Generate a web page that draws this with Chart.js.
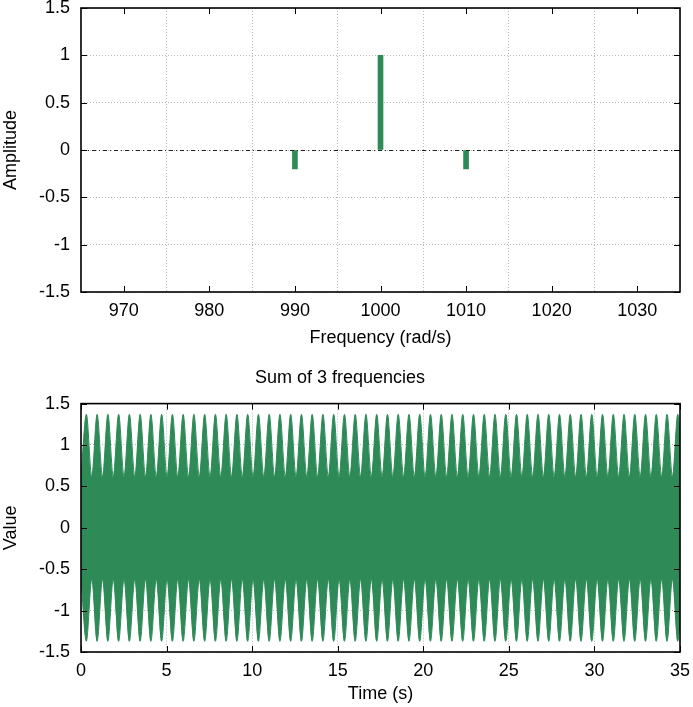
<!DOCTYPE html>
<html>
<head>
<meta charset="utf-8">
<script src="https://cdn.jsdelivr.net/npm/chart.js@4.4.1/dist/chart.umd.min.js"></script>
<style>
  body { margin: 0; background: #fff; }
  #wrap { position: relative; width: 693px; height: 707px; }
  canvas { position: absolute; left: 0; }
</style>
</head>
<body>
<div id="wrap">
  <canvas id="spectrum" width="693" height="355" style="top:0"></canvas>
  <canvas id="signal" width="693" height="352" style="top:355px"></canvas>
</div>
<script>
// spectrum (top)
const freqs = [990, 1000, 1010];
const amps = [-0.2, 1, -0.2];
const freqTicks = [970, 980, 990, 1000, 1010, 1020, 1030];

// envelope of the summed signal (bottom), read at beat troughs / peaks
const envTimes = [
  0, 0.314, 0.628, 0.942, 1.257, 1.571, 1.885, 2.199, 2.513, 2.827,
  3.142, 3.456, 3.770, 4.084, 4.398, 4.712, 5.027, 5.341, 5.655, 5.969,
  6.283, 6.597, 6.912, 7.226, 7.540, 7.854, 8.168, 8.482, 8.796, 9.111,
  9.425, 9.739, 10.053, 10.367, 10.681, 10.996, 11.310, 11.624, 11.938, 12.252,
  12.566, 12.881, 13.195, 13.509, 13.823, 14.137, 14.451, 14.765, 15.080, 15.394,
  15.708, 16.022, 16.336, 16.650, 16.965, 17.279, 17.593, 17.907, 18.221, 18.535,
  18.850, 19.164, 19.478, 19.792, 20.106, 20.420, 20.735, 21.049, 21.363, 21.677,
  21.991, 22.305, 22.619, 22.934, 23.248, 23.562, 23.876, 24.190, 24.504, 24.819,
  25.133, 25.447, 25.761, 26.075, 26.389, 26.704, 27.018, 27.332, 27.646, 27.960,
  28.274, 28.588, 28.903, 29.217, 29.531, 29.845, 30.159, 30.473, 30.788, 31.102,
  31.416, 31.730, 32.044, 32.358, 32.673, 32.987, 33.301, 33.615, 33.929, 34.243,
  34.558, 34.872, 35
];
const envValues = [
  0.62, 1.37, 0.62, 1.37, 0.62, 1.37, 0.62, 1.37, 0.62, 1.37,
  0.62, 1.37, 0.62, 1.37, 0.62, 1.37, 0.62, 1.37, 0.62, 1.37,
  0.62, 1.37, 0.62, 1.37, 0.62, 1.37, 0.62, 1.37, 0.62, 1.37,
  0.62, 1.37, 0.62, 1.37, 0.62, 1.37, 0.62, 1.37, 0.62, 1.37,
  0.62, 1.37, 0.62, 1.37, 0.62, 1.37, 0.62, 1.37, 0.62, 1.37,
  0.62, 1.37, 0.62, 1.37, 0.62, 1.37, 0.62, 1.37, 0.62, 1.37,
  0.62, 1.37, 0.62, 1.37, 0.62, 1.37, 0.62, 1.37, 0.62, 1.37,
  0.62, 1.37, 0.62, 1.37, 0.62, 1.37, 0.62, 1.37, 0.62, 1.37,
  0.62, 1.37, 0.62, 1.37, 0.62, 1.37, 0.62, 1.37, 0.62, 1.37,
  0.62, 1.37, 0.62, 1.37, 0.62, 1.37, 0.62, 1.37, 0.62, 1.37,
  0.62, 1.37, 0.62, 1.37, 0.62, 1.37, 0.62, 1.37, 0.62, 1.37,
  0.62, 1.37, 1.12
];
const timeTicks = [0, 5, 10, 15, 20, 25, 30, 35];
const valueTicks = [-1.5, -1, -0.5, 0, 0.5, 1, 1.5];

const GREEN = '#2e8b57';
const FONT = { family: '"Liberation Sans", Arial, sans-serif', size: 18 };
Chart.defaults.font = FONT;
Chart.defaults.color = '#000';

// gnuplot-like frame with inward ticks on all four sides
const framePlugin = {
  id: 'frame',
  afterDatasetsDraw(chart) {
    const { ctx, chartArea: a, scales } = chart;
    ctx.save();
    ctx.strokeStyle = '#000';
    ctx.lineWidth = 1;
    const tl = 6;
    scales.x.ticks.forEach(t => {
      const px = Math.round(scales.x.getPixelForValue(t.value)) + 0.5;
      ctx.beginPath();
      ctx.moveTo(px, a.bottom); ctx.lineTo(px, a.bottom - tl);
      ctx.moveTo(px, a.top); ctx.lineTo(px, a.top + tl);
      ctx.stroke();
    });
    scales.y.ticks.forEach(t => {
      const py = Math.round(scales.y.getPixelForValue(t.value)) + 0.5;
      ctx.beginPath();
      ctx.moveTo(a.left, py); ctx.lineTo(a.left + tl, py);
      ctx.moveTo(a.right, py); ctx.lineTo(a.right - tl, py);
      ctx.stroke();
    });
    ctx.lineWidth = 1.6;
    ctx.strokeRect(a.left, a.top, a.right - a.left, a.bottom - a.top);
    ctx.restore();
  }
};

// dash-dot zero line on the spectrum
const zeroLine = {
  id: 'zeroLine',
  afterDatasetsDraw(chart) {
    const { ctx, chartArea: a, scales } = chart;
    const py = Math.round(scales.y.getPixelForValue(0)) + 0.5;
    ctx.save();
    ctx.strokeStyle = '#222';
    ctx.lineWidth = 1.2;
    ctx.setLineDash([4, 3, 1, 3]);
    ctx.beginPath();
    ctx.moveTo(a.left, py); ctx.lineTo(a.right, py);
    ctx.stroke();
    ctx.restore();
  }
};

function gridOpts() {
  return { color: '#b8b8b8', lineWidth: 1, drawTicks: false };
}
function fixTicks(list) {
  return axis => { axis.ticks = list.map(v => ({ value: v })); };
}
// fixed axis size, and no extra room for overhanging labels
function fitTo(dim, size) {
  return s => {
    s[dim] = size;
    s.paddingTop = 0; s.paddingBottom = 0;
    s.paddingLeft = 0; s.paddingRight = 0;
  };
}

window.onload = function () {
  new Chart(document.getElementById('spectrum').getContext('2d'), {
    type: 'bar',
    data: {
      datasets: [{
        label: 'Amplitude',
        data: freqs.map((f, i) => ({ x: f, y: amps[i] })),
        backgroundColor: GREEN,
        borderWidth: 0,
        barThickness: 5
      }]
    },
    options: {
      responsive: false,
      animation: false,
      layout: { padding: { top: 8, right: 13, left: 0, bottom: 0 } },
      plugins: { legend: { display: false }, tooltip: { enabled: false } },
      scales: {
        x: {
          type: 'linear',
          min: 965, max: 1035,
          offset: false,
          afterBuildTicks: fixTicks(freqTicks),
          afterFit: fitTo('height', 63),
          grid: gridOpts(),
          border: { display: false, dash: [1, 2] },
          ticks: { padding: 8, maxRotation: 0, callback: v => String(v) },
          title: { display: true, text: 'Frequency (rad/s)', padding: { top: 0, bottom: 6 } }
        },
        y: {
          min: -1.5, max: 1.5,
          afterBuildTicks: fixTicks(valueTicks),
          afterFit: fitTo('width', 81),
          grid: gridOpts(),
          border: { display: false, dash: [1, 2] },
          ticks: { padding: 11, callback: v => String(v) },
          title: { display: true, text: 'Amplitude', padding: { top: 0, bottom: 0 } }
        }
      }
    },
    plugins: [zeroLine, framePlugin]
  });

  new Chart(document.getElementById('signal').getContext('2d'), {
    type: 'line',
    data: {
      datasets: [{
        label: 'upper',
        data: envTimes.map((t, i) => ({ x: t, y: envValues[i] })),
        borderColor: GREEN,
        backgroundColor: GREEN,
        borderWidth: 1,
        pointRadius: 0,
        cubicInterpolationMode: 'monotone',
        fill: '+1'
      }, {
        label: 'lower',
        data: envTimes.map((t, i) => ({ x: t, y: -envValues[i] })),
        borderColor: GREEN,
        borderWidth: 1,
        pointRadius: 0,
        cubicInterpolationMode: 'monotone',
        fill: false
      }]
    },
    options: {
      responsive: false,
      animation: false,
      layout: { padding: { top: 0, right: 13, left: 0, bottom: 0 } },
      plugins: {
        legend: { display: false },
        tooltip: { enabled: false },
        title: {
          display: true,
          text: 'Sum of 3 frequencies',
          font: { weight: 'normal', size: 18 },
          color: '#000',
          padding: { top: 12, bottom: 15 }
        }
      },
      scales: {
        x: {
          type: 'linear',
          min: 0, max: 35,
          afterBuildTicks: fixTicks(timeTicks),
          afterFit: fitTo('height', 55),
          grid: gridOpts(),
          border: { display: false, dash: [1, 2] },
          ticks: { padding: 8, maxRotation: 0, callback: v => String(v) },
          title: { display: true, text: 'Time (s)', padding: { top: 0, bottom: 2 } }
        },
        y: {
          min: -1.5, max: 1.5,
          afterBuildTicks: fixTicks(valueTicks),
          afterFit: fitTo('width', 81),
          grid: gridOpts(),
          border: { display: false, dash: [1, 2] },
          ticks: { padding: 11, callback: v => String(v) },
          title: { display: true, text: 'Value', padding: { top: 0, bottom: 0 } }
        }
      }
    },
    plugins: [framePlugin]
  });
};
</script>
</body>
</html>
